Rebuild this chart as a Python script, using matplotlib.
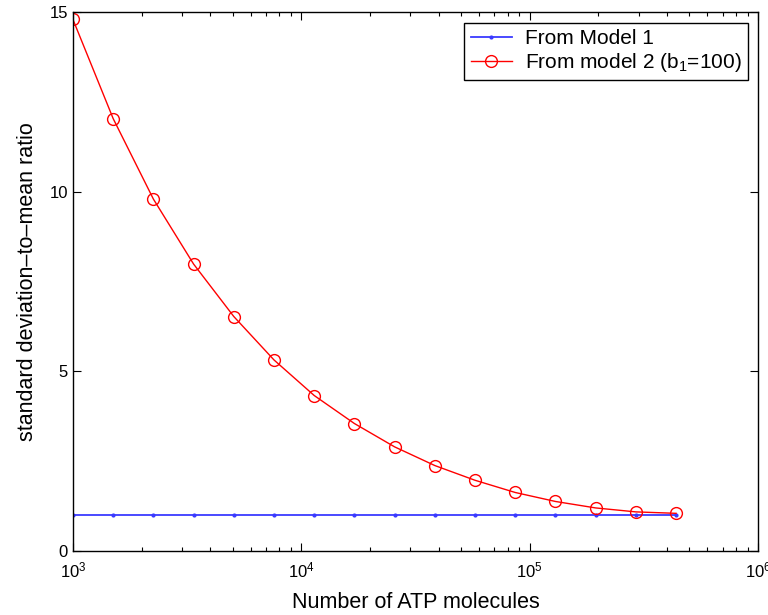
import matplotlib.pyplot as plt
from matplotlib.ticker import LogLocator

plt.rcParams['font.family'] = ['Liberation Sans', 'DejaVu Sans']
plt.rcParams['mathtext.fontset'] = 'custom'
plt.rcParams['mathtext.rm'] = 'Liberation Sans'
plt.rcParams['mathtext.it'] = 'Liberation Sans'
plt.rcParams['mathtext.default'] = 'regular'

# number of ATP molecules (each step x1.5)
atp = [1000, 1500, 2250, 3375, 5062, 7594, 11391, 17086, 25629,
       38443, 57665, 86498, 129746, 194620, 291929, 437894]
model1 = [1.0] * len(atp)
model2 = [14.80, 12.04, 9.80, 7.99, 6.53, 5.32, 4.33, 3.55, 2.90,
          2.38, 1.97, 1.63, 1.38, 1.20, 1.09, 1.05]

fig = plt.figure(figsize=(7.68, 6.15), dpi=100)
ax = fig.add_axes([0.095, 0.104, 0.892, 0.876])

ax.plot(atp, model1, color='#3a3aff', marker='.', markersize=4,
        linewidth=1.3, label='From Model 1')
ax.plot(atp, model2, color='red', marker='o', markersize=8.5,
        markerfacecolor='none', linewidth=1, label='From model 2 (b$_1$=100)')

ax.set_xscale('log')
ax.set_xlim(1e3, 1e6)
ax.set_ylim(0, 15)
ax.set_yticks([0, 5, 10, 15])
ax.xaxis.set_minor_locator(LogLocator(subs=range(2, 10)))

ax.tick_params(which='both', direction='in', top=True, right=True,
               labelsize=12, width=0.8)
ax.tick_params(which='major', length=6)
ax.tick_params(which='minor', length=3)
ax.tick_params(axis='x', pad=7)
for s in ax.spines.values():
    s.set_linewidth(1)

ax.set_xlabel('Number of ATP molecules', fontsize=15.5, labelpad=8)
ax.set_ylabel('standard deviation\u2013to\u2013mean ratio', fontsize=15.5, labelpad=8)

leg = ax.legend(loc='upper right', fontsize=15, fancybox=False,
                edgecolor='black', framealpha=1, handlelength=2.0,
                handletextpad=0.6, borderpad=0.3, labelspacing=0.15,
                borderaxespad=0.5)
leg.get_frame().set_linewidth(1)

fig.savefig('out.png', dpi=100)
